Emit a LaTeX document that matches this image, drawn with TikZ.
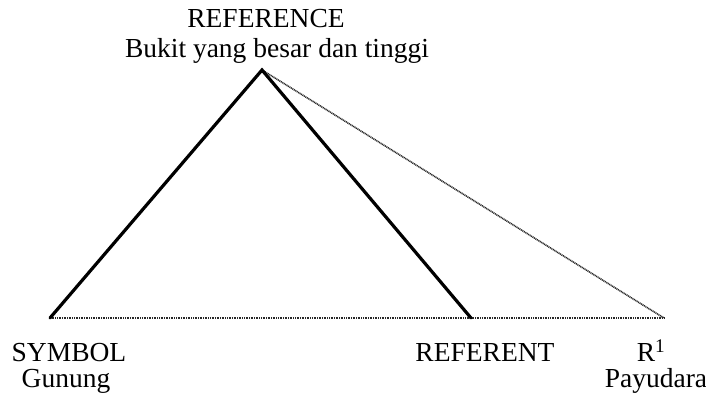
\documentclass[tikz,border=0pt]{standalone}
\usepackage{fontspec}
\setmainfont{Liberation Serif}
\begin{document}
\begin{tikzpicture}[x=1pt,y=1pt,
  lbl/.style={inner sep=0pt, anchor=base, font=\fontsize{27.5}{30}\selectfont},
  solidline/.style={line width=3.2pt, line join=miter, line cap=round},
  dotline/.style={line width=1.6pt, dash pattern=on 1pt off 0.7pt, black!85}]
\useasboundingbox (0,0) rectangle (706,406);
\coordinate (apex) at (262,336);
\coordinate (sym) at (50,88);
\coordinate (ref) at (471,88);
\coordinate (rone) at (664,88);
\draw[dotline] (sym) -- (rone);
\draw[dotline] (apex) -- (rone);
\draw[solidline] (sym) -- (apex) -- (ref);
\node[lbl] (reference) at (266,378) {REFERENCE};
\node[lbl] (bukit) at (277,348) {Bukit yang besar dan tinggi};
\node[lbl] (symbol) at (69,44) {SYMBOL};
\node[lbl] (gunung) at (66,18) {Gunung};
\node[lbl] (referent) at (485,44) {REFERENT};
\node[lbl] (r1) at (651,44) {R\textsuperscript{1}};
\node[lbl] (payudara) at (656,18) {Payudara};
\end{tikzpicture}
\end{document}
